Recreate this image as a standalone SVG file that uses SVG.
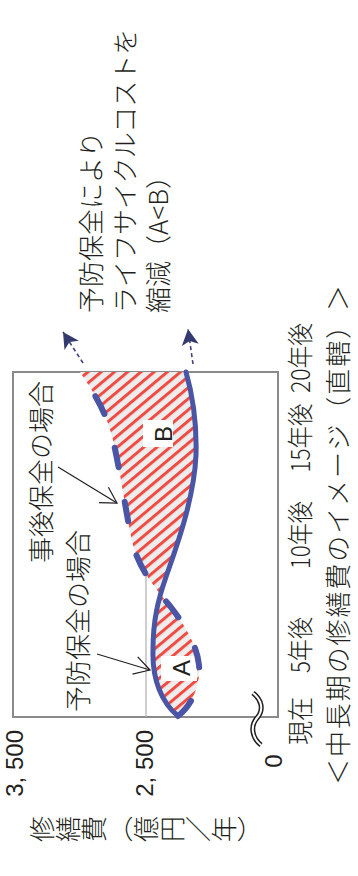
<svg xmlns="http://www.w3.org/2000/svg" width="358" height="876" viewBox="0 0 358 876">
<style>
.t{font-family:"Noto Sans CJK JP","Noto Sans",sans-serif;font-size:26px;font-weight:300;fill:#231f20}
.n{font-family:"Liberation Sans",sans-serif;font-size:24px;fill:#231f20}
.blue{fill:none;stroke:#4b55a5;stroke-linecap:round;stroke-linejoin:round}
.lead{fill:none;stroke:#231f20;stroke-width:1.2}
.up{fill:none;stroke:#3d4280;stroke-width:1.6;stroke-dasharray:4 3}
</style>
<defs>
<pattern id="hatch" width="8.5" height="8.5" patternUnits="userSpaceOnUse" patternTransform="rotate(50)">
<rect width="8.5" height="8.5" fill="#ededed"/>
<rect width="3" height="8.5" fill="#ee4b43"/>
</pattern>
<marker id="tri" viewBox="-16 -9 17 18" refX="0" refY="0" markerWidth="17" markerHeight="18" markerUnits="userSpaceOnUse" orient="auto">
<path d="M0,0 L-16,-8.5 L-12,0 L-16,8.5 Z" fill="#353a6e"/>
</marker>
<marker id="open" viewBox="-18 -10 20 20" refX="0" refY="0" markerWidth="20" markerHeight="20" markerUnits="userSpaceOnUse" orient="auto">
<path d="M-15.6,-9 L0,0 L-15.6,9" fill="none" stroke="#231f20" stroke-width="1.2"/>
</marker>
</defs>
<rect width="358" height="876" fill="#fff"/>

<g id="chart-frame">
<rect x="13" y="372" width="265" height="345" fill="#fff" stroke="#8a8a8a" stroke-width="2"/>
<line x1="146" y1="372" x2="146" y2="717" stroke="#b0b0b0" stroke-width="1.2"/>
</g>

<g id="hatch-area">
<path d="M178,716 C162,703 152,680 153,650 C153,620 158,600 166,577 C176,548 194,500 196,455 C197,420 192,393 186,372 L80,372 C92,390 106,410 113,440 C122,480 126,515 133,545 C140,570 155,588 170,606 C185,625 197,645 199,665 C201,685 192,705 178,716 Z" fill="url(#hatch)"/>
</g>

<g id="label-A">
<rect x="161" y="656" width="36" height="25" fill="#fff"/>
<text class="n" text-anchor="middle" transform="translate(190,668) rotate(-90)">A</text>
</g>
<g id="label-B">
<rect x="143" y="420" width="30" height="27" fill="#fff"/>
<text class="n" text-anchor="middle" transform="translate(172,434) rotate(-90)">B</text>
</g>

<g id="curve-preventive">
<path class="blue" stroke-width="5" d="M178,716 C162,703 152,680 153,650 C153,620 158,600 166,577 C176,548 194,500 196,455 C197,420 192,393 186,372"/>
</g>
<g id="curve-corrective">
<path class="blue" stroke-width="6" stroke-dasharray="20 35" d="M178,716 C192,705 201,685 199,665 C197,645 185,625 170,606 C155,588 140,570 133,545 C126,515 122,480 113,440 C106,410 92,390 80,372"/>
</g>

<g id="connectors">
<line class="up" x1="193" y1="364" x2="188" y2="329" marker-end="url(#tri)"/>
<line class="up" x1="83" y1="363" x2="63" y2="332" marker-end="url(#tri)"/>
<line class="lead" x1="58" y1="467" x2="117" y2="503" marker-end="url(#open)"/>
<line class="lead" x1="97" y1="654" x2="150" y2="670" marker-end="url(#open)"/>
</g>

<g id="axis-break">
<path d="M253,693 C262,700 264,710 257,718 C250,726 252,738 261,745" fill="none" stroke="#231f20" stroke-width="5"/>
<path d="M253,693 C262,700 264,710 257,718 C250,726 252,738 261,745" fill="none" stroke="#fff" stroke-width="2"/>
</g>

<g id="y-ticks">
<text class="n" text-anchor="end" transform="translate(23,730) rotate(-90)">3, 500</text>
<text class="n" text-anchor="end" transform="translate(153,730) rotate(-90)">2, 500</text>
<text class="n" text-anchor="middle" transform="translate(282,761) rotate(-90)">0</text>
</g>

<g id="y-title">
<text class="t" font-size="25" style="writing-mode:vertical-rl" transform="translate(29,829) rotate(-90)">修繕費（億円<tspan style="font-feature-settings:'vert' 0">／</tspan>年）</text>
</g>

<g id="x-ticks">
<text class="t" font-size="25" text-anchor="middle" textLength="48" lengthAdjust="spacingAndGlyphs" transform="translate(310,721) rotate(-90)">現在</text>
<text class="t" font-size="25" text-anchor="middle" textLength="56" lengthAdjust="spacingAndGlyphs" transform="translate(310,645) rotate(-90)">5年後</text>
<text class="t" font-size="25" text-anchor="middle" textLength="68" lengthAdjust="spacingAndGlyphs" transform="translate(310,535) rotate(-90)">10年後</text>
<text class="t" font-size="25" text-anchor="middle" textLength="69" lengthAdjust="spacingAndGlyphs" transform="translate(310,438) rotate(-90)">15年後</text>
<text class="t" font-size="25" text-anchor="middle" textLength="70" lengthAdjust="spacingAndGlyphs" transform="translate(310,358) rotate(-90)">20年後</text>
</g>

<g id="caption">
<text class="t" font-size="27" textLength="500" lengthAdjust="spacing" transform="translate(348,785) rotate(-90)">＜中長期の修繕費のイメージ（直轄）＞</text>
</g>

<g id="label-preventive">
<text class="t" transform="translate(88,712) rotate(-90)">予防保全の場合</text>
</g>
<g id="label-corrective">
<text class="t" transform="translate(51,563) rotate(-90)">事後保全の場合</text>
</g>

<g id="note">
<text class="t" transform="translate(101,313) rotate(-90)">予防保全により</text>
<text class="t" transform="translate(135,313) rotate(-90)">ライフサイクルコストを</text>
<text class="t" transform="translate(168,313) rotate(-90)">縮減（A&lt;B）</text>
</g>
</svg>
